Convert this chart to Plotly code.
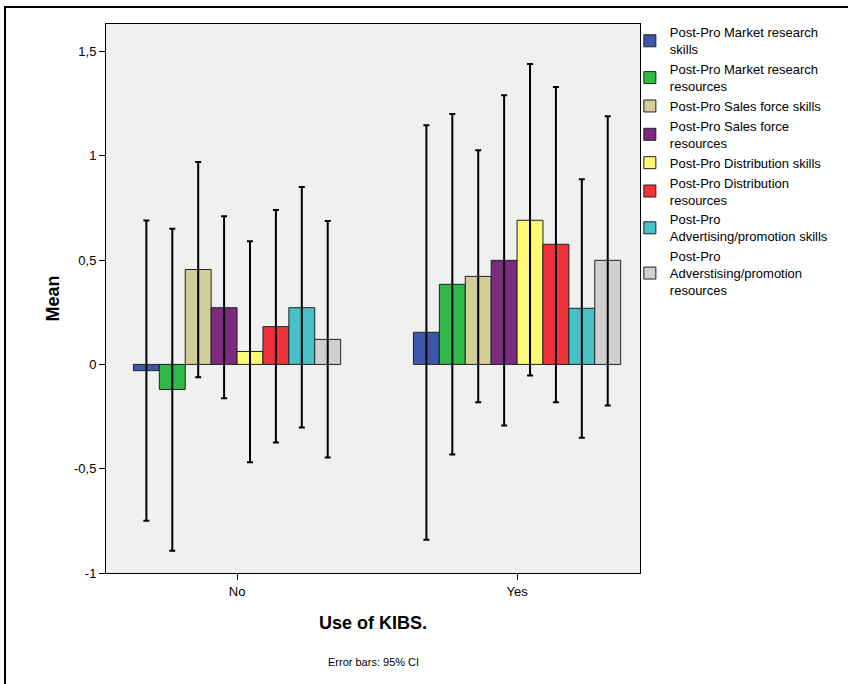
import plotly.graph_objects as go

categories = ["No", "Yes"]
series_names = [
    "Post-Pro Market research<br>skills",
    "Post-Pro Market research<br>resources",
    "Post-Pro Sales force skills",
    "Post-Pro Sales force<br>resources",
    "Post-Pro Distribution skills",
    "Post-Pro Distribution<br>resources",
    "Post-Pro<br>Advertising/promotion skills",
    "Post-Pro<br>Adverstising/promotion<br>resources",
]
colors = ["#3d58a8", "#2fb946", "#d3ce97", "#7c2a7d", "#fdf970", "#f0323a", "#47c1c6", "#cfcfcf"]

# means per series: [No, Yes]
means = [
    [-0.03, 0.154],
    [-0.12, 0.384],
    [0.455, 0.422],
    [0.272, 0.499],
    [0.062, 0.691],
    [0.181, 0.576],
    [0.272, 0.269],
    [0.12, 0.499],
]
ci_upper = [
    [0.69, 1.147],
    [0.65, 1.20],
    [0.97, 1.027],
    [0.71, 1.29],
    [0.59, 1.44],
    [0.74, 1.33],
    [0.85, 0.888],
    [0.687, 1.19],
]
ci_lower = [
    [-0.75, -0.84],
    [-0.893, -0.432],
    [-0.061, -0.181],
    [-0.162, -0.293],
    [-0.469, -0.053],
    [-0.374, -0.181],
    [-0.302, -0.352],
    [-0.446, -0.197],
]

fig = go.Figure()
for name, col, m, up, lo in zip(series_names, colors, means, ci_upper, ci_lower):
    fig.add_trace(go.Bar(
        x=categories, y=m, name=name,
        marker=dict(color=col, line=dict(color="#222222", width=1)),
        error_y=dict(type="data", symmetric=False,
                     array=[u - v for u, v in zip(up, m)],
                     arrayminus=[v - l for v, l in zip(m, lo)],
                     color="black", thickness=2, width=3),
    ))

font = "Liberation Sans, Arial, sans-serif"
fig.update_layout(
    width=848, height=684,
    margin=dict(l=106, r=208, t=24, b=111, autoexpand=False),
    paper_bgcolor="white", plot_bgcolor="#f0f0f0",
    barmode="group", bargap=0.26, bargroupgap=0,
    separators=",.",
    font=dict(family=font, size=13, color="black"),
    showlegend=True,
    legend=dict(x=0.981, y=1.012, xanchor="left", yanchor="top",
                font=dict(size=13, family=font), tracegroupgap=0,
                itemwidth=30, bgcolor="rgba(0,0,0,0)"),
    xaxis=dict(range=[-0.468, 1.439], showline=True, linecolor="black", linewidth=1,
               mirror=True, ticks="outside", ticklen=6, tickcolor="black",
               tickfont=dict(size=13), showgrid=False,
               title=dict(text="<b>Use of KIBS.</b>", font=dict(size=18), standoff=18)),
    yaxis=dict(range=[-1, 1.632], showline=True, linecolor="black", linewidth=1,
               mirror=True, ticks="outside", ticklen=6, tickcolor="black",
               tickvals=[-1, -0.5, 0, 0.5, 1, 1.5],
               ticktext=["-1", "-0,5", "0", "0,5", "1", "1,5"],
               tickfont=dict(size=13), showgrid=False, zeroline=False,
               title=dict(text="<b>Mean</b>", font=dict(size=18), standoff=9)),
)
fig.add_annotation(text="Error bars: 95% CI", xref="paper", yref="paper",
                   x=0.5, y=-0.162, xanchor="center", yanchor="middle",
                   showarrow=False, font=dict(size=11, family=font))
# outer frame
fig.add_shape(type="rect", xref="paper", yref="paper",
              x0=(5 - 106) / 534, x1=(860 - 106) / 534,
              y0=(573 - 700) / 549, y1=(573 - 7) / 549,
              line=dict(color="black", width=2), layer="below")
fig.write_html("out.html")
